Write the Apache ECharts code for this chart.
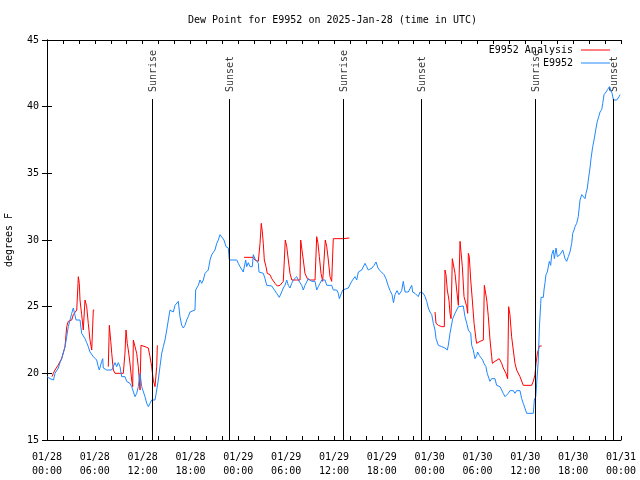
<!DOCTYPE html>
<html><head><meta charset="utf-8">
<script src="https://cdn.jsdelivr.net/npm/echarts@6/dist/echarts.min.js"></script>
<style>html,body{margin:0;padding:0;background:#fff}#c{width:640px;height:480px}</style>
</head><body><div id="c"></div>
<script>
// ---- data (x = hours since 2025-01-28 00:00 UTC, y = dew point in F) ----
const titleText = 'Dew Point for E9952 on 2025-Jan-28 (time in UTC)';
const yAxisName = 'degrees F';
const seriesNames = ['E9952 Analysis', 'E9952'];
const startDay = 28;
const sunHours = [13.2, 22.88, 37.17, 46.95, 61.25, 71.03];
const sunLabels = ['Sunrise', 'Sunset', 'Sunrise', 'Sunset', 'Sunrise', 'Sunset'];

const analysisData = [
[0.63,19.75],[0.79,20.0],[1.0,20.25],[1.38,20.6],[1.84,21.1],[2.26,22.0],[2.47,23.5],[2.67,23.9],[3.10,24.0],[3.30,24.4],[3.51,24.4],[3.73,24.75],[3.93,27.25],[4.05,26.75],[4.14,25.5],[4.35,24.4],[4.55,23.25],[4.77,25.5],[4.98,25.0],[5.18,23.75],[5.39,22.5],[5.61,21.75],[5.81,24.75],[5.93,24.75],[6.5,null],
[7.69,20.5],[7.82,23.6],[8.0,22.4],[8.12,21.5],[8.32,20.25],[8.53,20.0],[8.74,19.9],[9.16,20.0],[9.57,20.0],[9.78,21.5],[9.91,23.25],[10.07,22.25],[10.20,21.75],[10.41,20.75],[10.62,19.5],[10.75,19.0],[10.83,22.5],[11.04,22.5],[11.25,21.5],[11.45,20.5],[11.67,18.75],[11.79,22.1],[12.29,22.0],[12.71,21.9],[12.92,21.25],[13.13,20.5],[13.33,19.5],[13.55,19.0],[13.76,20.5],[13.84,22.1],[20,null],
[24.71,28.7],[25.84,28.7],[26.09,28.5],[26.51,28.4],[26.72,29.75],[26.88,31.25],[27.01,30.6],[27.13,29.75],[27.26,28.5],[27.47,28.0],[27.63,27.5],[27.97,27.4],[28.19,27.1],[28.60,26.75],[28.89,26.55],[29.23,26.6],[29.44,26.75],[29.64,26.9],[29.77,28.5],[29.89,30.0],[30.07,29.5],[30.27,28.5],[30.48,27.5],[30.70,27.0],[31.32,27.0],[31.74,27.0],[31.82,30.0],[31.95,29.9],[32.15,28.5],[32.36,27.5],[32.65,27.1],[32.99,27.0],[33.62,27.0],[33.83,30.25],[33.99,29.75],[34.16,28.75],[34.37,27.5],[34.58,26.9],[34.75,27.0],[34.91,30.0],[35.09,29.5],[35.29,28.5],[35.50,27.25],[35.71,26.9],[35.84,26.9],[35.91,30.1],[37.13,30.1],[37.19,30.15],[37.92,30.15],[43,null],
[48.67,24.6],[48.80,23.75],[49.09,23.6],[49.51,23.5],[49.84,23.5],[49.92,27.75],[50.05,27.4],[50.21,26.25],[50.42,25.5],[50.55,24.5],[50.68,24.1],[50.84,28.6],[50.97,28.6],[51.18,27.5],[51.39,26.25],[51.60,25.1],[51.72,25.1],[51.81,29.9],[51.97,29.9],[52.10,28.0],[52.31,25.75],[52.65,25.0],[52.77,24.5],[52.85,29.0],[52.97,28.75],[53.15,27.0],[53.35,25.5],[53.57,23.75],[53.82,22.5],[53.90,22.25],[54.32,22.4],[54.73,22.5],[54.86,26.6],[55.03,26.5],[55.16,25.5],[55.36,24.25],[55.57,22.5],[55.78,21.25],[55.86,20.75],[56.19,20.9],[56.40,21.0],[56.73,21.1],[57.03,20.75],[57.23,20.4],[57.57,20.0],[57.78,19.6],[57.91,25.0],[58.07,24.4],[58.28,22.75],[58.49,21.75],[58.70,20.75],[58.91,20.25],[59.12,20.1],[59.33,19.75],[59.74,19.1],[60.79,19.1],[61.0,19.4],[61.21,19.9],[61.34,20.75],[61.51,21.5],[61.63,21.4],[61.76,22.05],[62.05,22.05]
];

const stationData = [
[0.0,19.75],[0.38,19.6],[0.82,19.5],[1.0,20.0],[1.42,20.4],[1.63,20.8],[1.84,21.1],[2.26,22.0],[2.47,22.75],[2.67,23.5],[2.89,24.0],[3.10,24.5],[3.30,24.9],[3.51,25.0],[3.64,24.0],[4.14,24.0],[4.35,23.0],[4.55,22.9],[4.77,22.6],[4.98,22.3],[5.18,22.0],[5.39,21.6],[5.61,21.5],[5.81,21.25],[6.02,21.2],[6.23,21.0],[6.43,20.5],[6.56,20.25],[6.86,20.9],[6.99,21.1],[7.06,20.4],[7.49,20.25],[8.12,20.25],[8.32,20.4],[8.53,20.8],[8.74,20.5],[8.94,20.8],[9.16,20.5],[9.37,19.75],[9.78,19.75],[10.0,19.4],[10.41,19.25],[10.62,19.0],[10.83,19.0],[11.04,18.25],[11.25,18.5],[11.45,19.0],[11.67,20.0],[11.88,19.0],[12.08,19.1],[12.29,18.25],[12.51,17.75],[12.71,17.5],[12.92,17.75],[13.13,18.0],[13.55,18.0],[13.76,18.75],[13.96,19.5],[14.17,20.5],[14.39,21.5],[14.59,22.0],[14.80,22.5],[15.02,23.25],[15.22,24.0],[15.43,24.75],[15.64,24.9],[15.84,24.6],[16.06,25.1],[16.27,25.25],[16.47,25.4],[16.68,24.25],[16.90,23.6],[17.10,23.4],[17.31,23.6],[17.52,24.0],[17.72,24.25],[17.94,24.6],[18.15,24.75],[18.56,24.75],[18.65,26.25],[18.98,26.6],[19.19,27.0],[19.41,26.75],[19.61,27.0],[19.82,27.5],[20.23,27.75],[20.45,28.5],[20.66,28.9],[20.86,28.75],[21.07,29.25],[21.29,29.75],[21.49,30.0],[21.70,30.4],[21.91,30.4],[22.20,30.0],[22.45,29.5],[22.74,29.4],[22.87,28.5],[23.80,28.5],[24.0,28.25],[24.21,28.0],[24.42,27.9],[24.62,27.6],[24.84,27.5],[24.92,28.5],[25.05,28.0],[25.25,28.3],[25.46,28.0],[25.75,28.0],[25.88,28.9],[26.09,28.6],[26.30,28.5],[26.51,28.25],[26.59,27.6],[27.13,27.5],[27.35,27.1],[27.56,26.6],[28.19,26.55],[28.39,26.4],[28.81,26.0],[29.14,25.7],[29.44,26.1],[29.64,26.4],[29.85,26.6],[30.07,27.0],[30.27,26.6],[30.48,26.4],[30.70,26.75],[30.90,27.0],[31.32,27.25],[31.52,27.0],[31.74,26.9],[31.95,26.6],[32.15,26.25],[32.36,26.6],[32.78,27.1],[32.99,27.0],[33.20,26.9],[33.62,26.9],[33.83,26.25],[34.03,26.5],[34.24,26.75],[34.46,27.0],[34.66,26.9],[34.87,27.0],[35.09,26.6],[35.71,26.6],[35.91,26.25],[36.34,26.25],[36.54,26.0],[36.67,25.6],[36.84,25.7],[37.09,26.25],[37.79,26.4],[38.01,26.5],[38.22,26.9],[38.42,26.75],[38.63,27.25],[38.85,27.0],[39.05,27.6],[39.48,27.75],[39.68,27.9],[39.89,28.25],[40.10,28.0],[40.30,27.75],[40.52,27.6],[40.77,27.9],[41.02,28.1],[41.27,28.35],[41.52,27.9],[41.77,27.7],[42.02,27.8],[42.27,27.4],[42.52,27.1],[42.78,26.6],[43.03,26.2],[43.28,25.9],[43.46,25.3],[43.65,25.9],[43.90,26.2],[44.15,25.9],[44.28,25.75],[44.49,26.2],[44.69,26.9],[44.91,26.1],[45.32,26.1],[45.53,26.25],[45.75,26.6],[45.87,26.1],[46.16,26.0],[46.37,25.9],[46.57,25.75],[46.79,26.1],[47.20,26.0],[47.42,25.75],[47.63,25.4],[47.83,24.9],[48.04,24.6],[48.26,24.4],[48.46,23.75],[48.67,23.25],[48.80,22.6],[48.96,22.75],[49.09,22.1],[49.51,22.0],[49.92,21.9],[50.21,21.75],[50.34,22.1],[50.55,23.0],[50.76,23.1],[50.89,24.1],[51.09,24.1],[51.18,24.5],[51.39,24.75],[51.60,25.0],[52.22,25.05],[52.43,24.25],[52.65,23.75],[52.85,23.25],[52.97,23.4],[53.15,23.0],[53.27,22.1],[53.47,21.75],[53.69,21.1],[53.90,21.35],[54.02,21.6],[54.22,21.35],[54.44,21.5],[54.65,21.0],[54.81,20.75],[55.06,20.5],[55.22,20.0],[55.44,19.6],[55.56,19.4],[55.77,19.6],[56.19,19.6],[56.40,19.1],[56.60,19.25],[56.82,19.0],[57.03,19.0],[57.23,18.5],[57.45,18.25],[57.66,18.4],[57.86,18.5],[58.07,18.7],[58.49,18.7],[58.70,18.5],[58.91,18.7],[59.33,18.7],[59.54,18.1],[59.74,17.75],[59.96,17.6],[60.17,17.0],[60.25,16.85],[60.38,17.0],[61.0,17.0],[61.13,18.0],[61.31,18.25],[61.51,18.25],[61.63,21.0],[61.76,23.4],[61.93,25.25],[61.97,25.7],[62.26,25.7],[62.34,26.25],[62.47,26.8],[62.59,27.4],[62.76,27.6],[63.01,28.4],[63.18,28.1],[63.31,28.9],[63.51,29.25],[63.64,28.6],[63.85,29.4],[64.01,28.75],[64.35,28.9],[64.56,29.0],[64.69,29.25],[64.85,28.9],[64.98,28.6],[65.19,28.4],[65.39,28.75],[65.60,29.1],[65.82,29.75],[65.94,30.5],[66.11,30.75],[66.23,31.0],[66.44,31.25],[66.64,31.75],[66.77,31.9],[66.86,33.0],[67.07,33.4],[67.27,33.5],[67.49,33.1],[67.61,33.5],[67.78,33.9],[67.90,34.5],[68.11,35.4],[68.24,36.1],[68.45,37.0],[68.62,37.5],[68.87,38.4],[69.03,38.9],[69.21,39.25],[69.37,39.6],[69.59,39.8],[69.71,40.25],[69.87,40.9],[70.12,41.1],[70.34,41.3],[70.54,41.5],[70.75,41.2],[70.88,41.0],[71.05,40.5],[71.47,40.5],[71.76,40.75],[71.89,40.9]
];

// ---- chart ----
const FONT = 'DejaVu Sans Mono';
const txt = {fontFamily: FONT, fontSize: 10, color: '#000'};
const sunLineTop = 40.57;
const sunLabelY = 41.1;
const colors = ['#ff0000', '#1e88ff'];

function pad(n) { return (n < 10 ? '0' : '') + n; }
function xLabel(v) {
  const d = startDay + Math.floor(v / 24);
  const h = Math.round(v % 24);
  return '01/' + pad(d) + '\n' + pad(h) + ':00';
}

const chart = echarts.init(document.getElementById('c'), null, {renderer: 'canvas'});
const axisLine = {show: true, lineStyle: {color: '#000', width: 1}};
const xBase = {
  type: 'value', min: 0, max: 72, interval: 6, gridIndex: 0,
  axisLine: axisLine,
  axisTick: {show: true, inside: true, length: 4, lineStyle: {color: '#000'}},
  minorTick: {show: true, splitNumber: 3, length: 4, lineStyle: {color: '#000'}},
  splitLine: {show: false}, minorSplitLine: {show: false}
};
const yBase = {
  type: 'value', min: 15, max: 45, interval: 5, gridIndex: 0,
  axisLine: axisLine,
  axisTick: {show: true, inside: true, length: 5, lineStyle: {color: '#000'}},
  splitLine: {show: false}
};

chart.setOption({
  animation: false,
  backgroundColor: '#fff',
  title: {text: titleText, left: 188, top: 15, padding: 0,
    textStyle: Object.assign({}, txt, {fontWeight: 'normal'})},
  legend: {
    data: seriesNames.map((n, i) => ({name: n, icon: 'rect', itemStyle: {color: colors[i]}})),
    orient: 'vertical', align: 'right', right: 30, top: 44,
    itemWidth: 29, itemHeight: 1, itemGap: 1, padding: 0,
    textStyle: Object.assign({}, txt, {padding: [0, 3, 0, 0], lineHeight: 12})
  },
  grid: {left: 47, right: 19, top: 40, bottom: 40, containLabel: false, outerBoundsMode: 'none'},
  xAxis: [
    Object.assign({}, xBase, {position: 'bottom',
      axisLabel: Object.assign({}, txt, {margin: 10, lineHeight: 14, formatter: xLabel})}),
    Object.assign({}, xBase, {position: 'top', axisLabel: {show: false}})
  ],
  yAxis: [
    Object.assign({}, yBase, {position: 'left',
      name: yAxisName, nameLocation: 'middle', nameGap: 33, nameRotate: 90,
      nameTextStyle: txt,
      axisLabel: Object.assign({}, txt, {margin: 8})}),
    Object.assign({}, yBase, {position: 'right', axisLabel: {show: false}})
  ],
  series: [
    {
      name: 'sun', type: 'scatter', symbolSize: 0, silent: true,
      data: sunHours.map((h, i) => [h, sunLabelY, sunLabels[i]]),
      label: {show: true, formatter: p => p.data[2], rotate: 90, position: 'inside',
        align: 'left', verticalAlign: 'middle', offset: [0, 1],
        fontFamily: FONT, fontSize: 10, color: '#000'},
      markLine: {
        silent: true, symbol: ['none', 'none'], animation: false,
        label: {show: false},
        lineStyle: {color: '#000', width: 1, type: 'solid'},
        data: sunHours.map(h => [{coord: [h, sunLineTop]}, {coord: [h, 15]}])
      }
    },
    {
      name: seriesNames[0], type: 'line', symbol: 'none', showSymbol: false,
      connectNulls: false,
      data: analysisData.map(p => [p[0], p[1] === null ? '-' : p[1]]),
      lineStyle: {color: colors[0], width: 1}, itemStyle: {color: colors[0]}
    },
    {
      name: seriesNames[1], type: 'line', symbol: 'none', showSymbol: false,
      data: stationData,
      lineStyle: {color: colors[1], width: 1}, itemStyle: {color: colors[1]}
    }
  ]
});
</script>
</body></html>
